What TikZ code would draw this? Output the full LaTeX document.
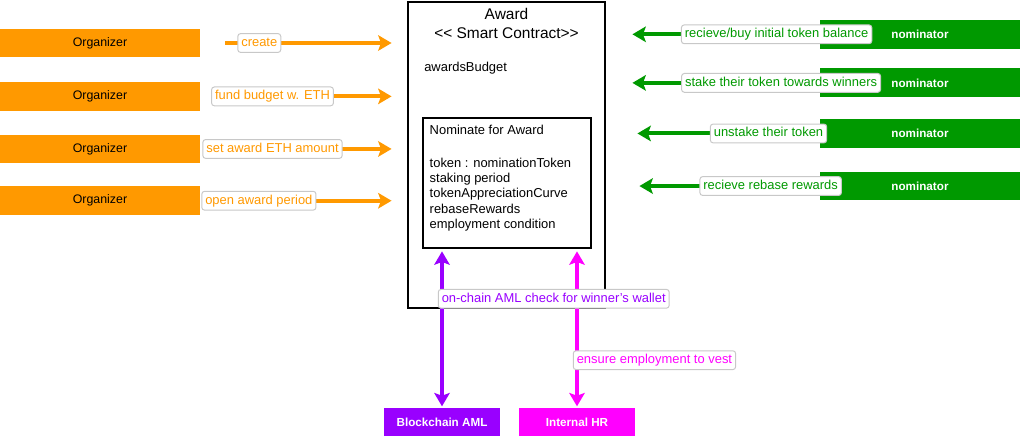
\documentclass[tikz,border=0pt]{standalone}
\usepackage{fontspec}
\setmainfont{Liberation Sans}
\usetikzlibrary{positioning, arrows.meta}
\definecolor{organizer_orange}{RGB}{255,153,0}
\definecolor{nominator_green}{RGB}{0,153,0}
\definecolor{aml_purple}{RGB}{153,0,255}
\definecolor{hr_magenta}{RGB}{255,0,255}
\definecolor{label_gray}{RGB}{200,200,200}

\tikzset{
	organizer_box/.style={rectangle, fill=organizer_orange, minimum width=5cm, minimum height=0.72cm, font=\fontsize{8.8}{10}\selectfont},
	nominator_box/.style={rectangle, fill=nominator_green, minimum width=5cm, minimum height=0.72cm, text=white, font=\fontsize{8.3}{10}\selectfont\bfseries},
	system_box/.style={rectangle, minimum width=2.9cm, minimum height=0.7cm, text=white, font=\fontsize{8.3}{10}\selectfont\bfseries},
	flow_label/.style={draw=label_gray, line width=0.7pt, fill=white, rounded corners=2pt, inner xsep=2.5pt, inner ysep=2.2pt, text height=7pt, text depth=2pt, font=\fontsize{9.2}{11}\selectfont},
	flow_arrow/.style={line width=2.8pt, -{Stealth[length=9.5pt, width=11pt, inset=2pt]}},
	flow_both/.style={line width=2.8pt, {Stealth[length=9.5pt, width=11pt, inset=2pt]}-{Stealth[length=9.5pt, width=11pt, inset=2pt]}},
}

\begin{document}
\begin{tikzpicture}[x=0.025cm, y=-0.025cm]
	\useasboundingbox (0,0) rectangle (1020,436);

	% --- Begin Award Node ---
	\node [draw, line width=2pt, minimum width=4.925cm, minimum height=7.65cm] (award) at (506.5,155) {};
	\node [anchor=north, align=center, inner sep=0pt, font=\fontsize{11}{13.5}\selectfont] (award_title) at ([yshift=-5pt]award.north) {Award\\<{}< Smart Contract>{}>};
	\node [anchor=west, inner sep=0pt, font=\fontsize{9.2}{11}\selectfont] (awards_budget) at (424,68) {awardsBudget};
	\node [draw, line width=1.8pt, minimum width=4.2cm, minimum height=3.25cm] (nominate) at (507,183) {};
	\node [anchor=north west, align=left, inner sep=0pt, font=\fontsize{9.2}{10.8}\selectfont] (nominate_attributes) at ([xshift=5.5pt, yshift=-5.5pt]nominate.north west) {
		Nominate for Award\\[13pt]
		token : nominationToken\\
		staking period\\
		tokenAppreciationCurve\\
		rebaseRewards\\
		employment condition
	};
	% --- End Award Node ---

	% --- Begin Organizer Nodes ---
	\node [organizer_box] (organizer_create) at (100,43) {Organizer};
	\node [organizer_box, below=0.6cm of organizer_create] (organizer_fund) {Organizer};
	\node [organizer_box, below=0.58cm of organizer_fund] (organizer_amount) {Organizer};
	\node [organizer_box, below=0.56cm of organizer_amount] (organizer_period) {Organizer};

	\draw [flow_arrow, organizer_orange, shorten <=0.625cm, shorten >=0.375cm] (organizer_create.east) -- (organizer_create.east -| award.west)
		node [flow_label, text=organizer_orange, pos=0.286] (create_label) {create};
	\draw [flow_arrow, organizer_orange, shorten <=0.625cm, shorten >=0.375cm] (organizer_fund.east) -- (organizer_fund.east -| award.west)
		node [flow_label, text=organizer_orange, pos=0.35] (fund_label) {fund budget w. ETH};
	\draw [flow_arrow, organizer_orange, shorten <=0.625cm, shorten >=0.375cm] (organizer_amount.east) -- (organizer_amount.east -| award.west)
		node [flow_label, text=organizer_orange, pos=0.35] (amount_label) {set award ETH amount};
	\draw [flow_arrow, organizer_orange, shorten <=0.625cm, shorten >=0.375cm] (organizer_period.east) -- (organizer_period.east -| award.west)
		node [flow_label, text=organizer_orange, pos=0.284] (period_label) {open award period};
	% --- End Organizer Nodes ---

	% --- Begin Nominator Nodes ---
	\node [nominator_box] (nominator_receive) at (920,34.3) {nominator};
	\node [nominator_box, below=0.48cm of nominator_receive] (nominator_stake) {nominator};
	\node [nominator_box, below=0.53cm of nominator_stake] (nominator_unstake) {nominator};
	\node [nominator_box, below=0.58cm of nominator_unstake] (nominator_rebase) {nominator};

	\draw [flow_arrow, nominator_green, shorten >=0.65cm] (nominator_receive.west) -- (nominator_receive.west -| award.east)
		node [flow_label, text=nominator_green, pos=0.202] (receive_label) {recieve/buy initial token balance};
	\draw [flow_arrow, nominator_green, shorten >=0.65cm] (nominator_stake.west) -- (nominator_stake.west -| award.east)
		node [flow_label, text=nominator_green, pos=0.181] (stake_label) {stake their token towards winners};
	\draw [flow_arrow, nominator_green, shorten >=0.775cm] (nominator_unstake.west) -- (nominator_unstake.west -| award.east)
		node [flow_label, text=nominator_green, pos=0.24] (unstake_label) {unstake their token};
	\draw [flow_arrow, nominator_green, shorten >=0.825cm] (nominator_rebase.west) -- (nominator_rebase.west -| award.east)
		node [flow_label, text=nominator_green, pos=0.23] (rebase_label) {recieve rebase rewards};
	% --- End Nominator Nodes ---

	% --- Begin Outside Systems ---
	\node [system_box, fill=aml_purple] (blockchain_aml) at (442,422) {Blockchain AML};
	\node [system_box, fill=hr_magenta] (internal_hr) at (577,422) {Internal HR};

	% HR first, so the AML label sits on top of its line
	\draw [flow_both, hr_magenta, shorten <=1pt, shorten >=1.5pt] (internal_hr.north) -- (internal_hr.north |- nominate.south)
		node [flow_label, text=hr_magenta, pos=0.3, anchor=west, xshift=-3pt] (hr_label) {ensure employment to vest};
	\draw [flow_both, aml_purple, shorten <=1pt, shorten >=1.5pt] (blockchain_aml.north) -- (blockchain_aml.north |- nominate.south)
		node [flow_label, text=aml_purple, pos=0.6875, anchor=west, xshift=-3pt] (aml_label) {on-chain AML check for winner's wallet};
	% --- End Outside Systems ---
\end{tikzpicture}
\end{document}
